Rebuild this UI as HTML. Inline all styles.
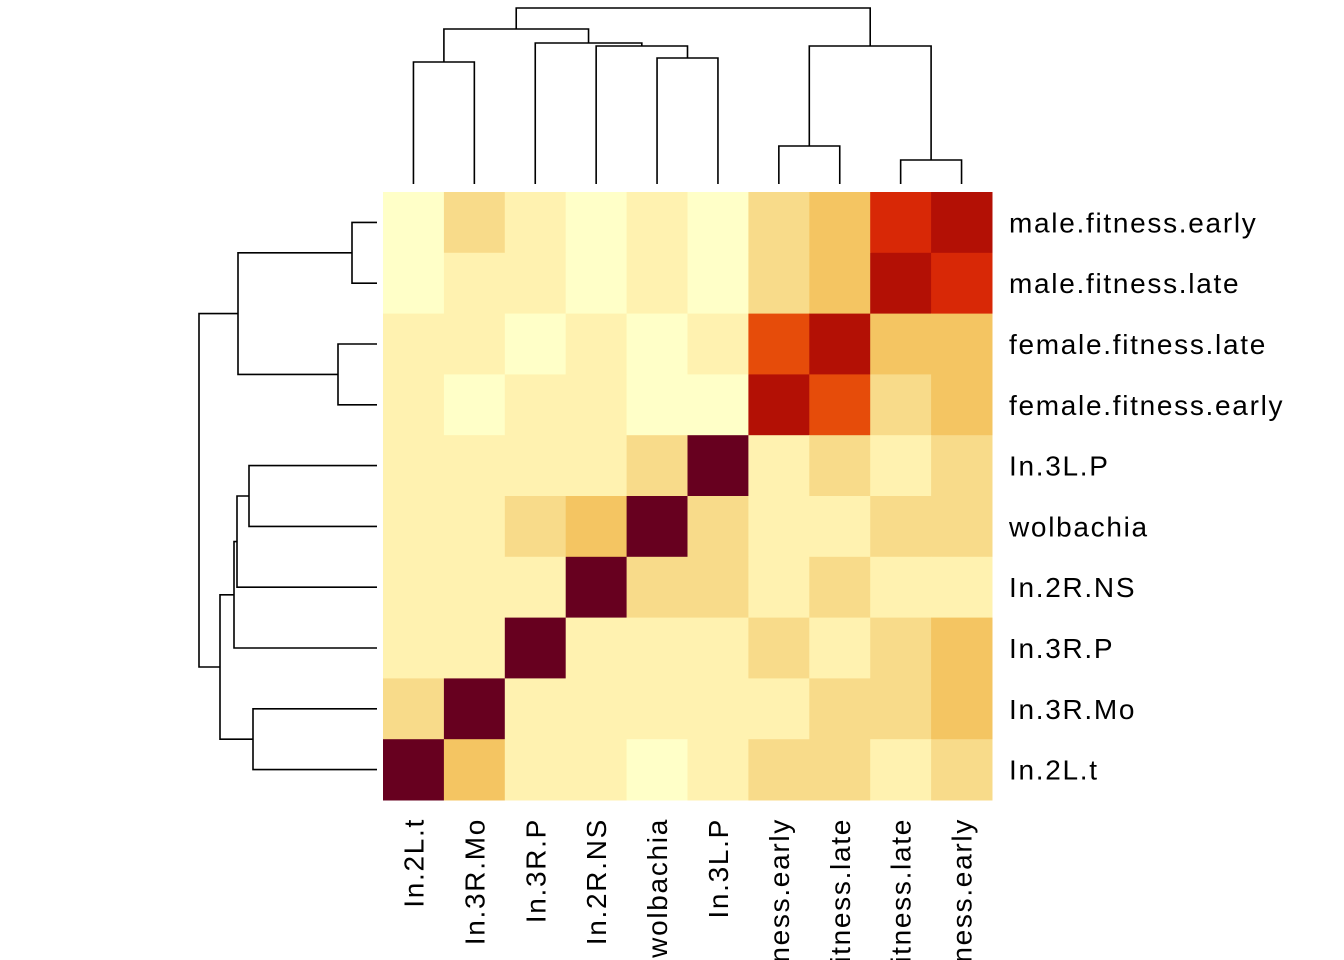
<!DOCTYPE html>
<html><head><meta charset="utf-8"><style>
html,body{margin:0;padding:0;background:#fff;}
svg{display:block;font-family:"Liberation Sans",Arial,sans-serif;}
</style></head><body>
<svg id="chart" width="1344" height="960" viewBox="0 0 1344 960">
<g id="cells"></g>
<g id="rowdend" stroke="#000" stroke-width="1.6" fill="none"></g>
<g id="coldend" stroke="#000" stroke-width="1.6" fill="none"></g>
<g id="rowlabels"></g>
<g id="collabels"></g>
</svg>
<script>
const rowLabels = ["male.fitness.early","male.fitness.late","female.fitness.late","female.fitness.early","In.3L.P","wolbachia","In.2R.NS","In.3R.P","In.3R.Mo","In.2L.t"];
const colLabels = ["In.2L.t","In.3R.Mo","In.3R.P","In.2R.NS","wolbachia","In.3L.P","ness.early","itness.late","itness.late","ness.early"];
const values = [
 [0,2,1,0,1,0,2,3,5,6],
 [0,1,1,0,1,0,2,3,6,5],
 [1,1,0,1,0,1,4,6,3,3],
 [1,0,1,1,0,0,6,4,2,3],
 [1,1,1,1,2,7,1,2,1,2],
 [1,1,2,3,7,2,1,1,2,2],
 [1,1,1,7,2,2,1,2,1,1],
 [1,1,7,1,1,1,2,1,2,3],
 [2,7,1,1,1,1,1,2,2,3],
 [7,3,1,1,0,1,2,2,1,2]
];
const palette = ["#FFFFC8","#FFF2B0","#F8DB8A","#F4C562","#E64C0A","#D82806","#B31005","#67001F"];
const colMerges = [[0,1,62],[4,5,58],[3,"m1",46],[2,"m2",43],["m0","m3",29],[6,7,146],[8,9,160],["m5","m6",46],["m4","m7",8]];
const rowMerges = [[0,1,352],[2,3,338],["m0","m1",238],[4,5,249],[6,"m3",237],[7,"m4",234],[8,9,253],["m5","m6",220],["m2","m7",199]];

const NS="http://www.w3.org/2000/svg";
const x0=383, y0=192, cw=60.9, ch=60.8;
const xs=i=>x0+cw*i, ys=j=>y0+ch*j;
const cells=document.getElementById('cells');
values.forEach((row,j)=>row.forEach((v,i)=>{
  const r=document.createElementNS(NS,'rect');
  r.setAttribute('x',xs(i));r.setAttribute('y',ys(j));
  r.setAttribute('width',cw+0.5);r.setAttribute('height',ch+0.5);
  r.setAttribute('fill',palette[v]);
  
  
  cells.appendChild(r);
}));
function dend(merges, leafPos, leafEnd, g, horiz){
  const pos=[], h=[];
  const get=n=>typeof n==="number"?[leafPos(n),leafEnd]:[pos[+n.slice(1)],h[+n.slice(1)]];
  merges.forEach((m,k)=>{
    const [p1,h1]=get(m[0]),[p2,h2]=get(m[1]),H=m[2];
    const path=document.createElementNS(NS,'path');
    const d=horiz?`M${h1},${p1}H${H}V${p2}H${h2}`:`M${p1},${h1}V${H}H${p2}V${h2}`;
    path.setAttribute('d',d);
    
    
    g.appendChild(path);
    pos[k]=(p1+p2)/2;h[k]=H;
  });
}
dend(colMerges,i=>xs(i+0.5),184,document.getElementById('coldend'),false);
dend(rowMerges,j=>ys(j+0.5),377,document.getElementById('rowdend'),true);
const rl=document.getElementById('rowlabels');
rowLabels.forEach((t,j)=>{
  const e=document.createElementNS(NS,'text');
  e.setAttribute('x',1009);e.setAttribute('y',ys(j+0.5)+10);
  e.setAttribute('font-size',28);e.setAttribute('letter-spacing',1.7);e.textContent=t;
  
  
  rl.appendChild(e);
});
const cl=document.getElementById('collabels');
colLabels.forEach((t,i)=>{
  const e=document.createElementNS(NS,'text');
  const x=xs(i+0.5)+10, y=818;
  e.setAttribute('transform',`translate(${x},${y}) rotate(-90)`);
  e.setAttribute('text-anchor','end');
  e.setAttribute('font-size',28);e.setAttribute('letter-spacing',1.7);e.textContent=t;
  
  
  cl.appendChild(e);
});
</script>
</body></html>
